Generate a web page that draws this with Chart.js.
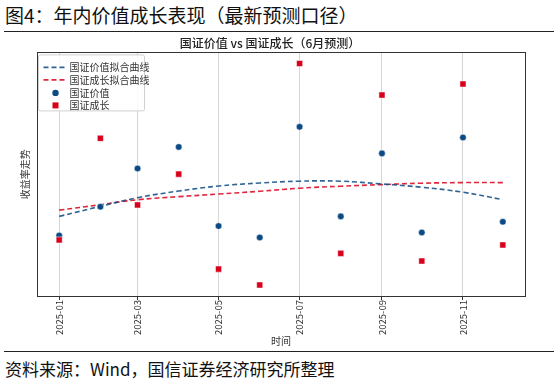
<!DOCTYPE html>
<html>
<head>
<meta charset="utf-8">
<script src="https://cdn.jsdelivr.net/npm/chart.js@4.4.1/dist/chart.umd.min.js"></script>
<style>
body { margin: 0; width: 556px; height: 385px; background: #fff; position: relative; overflow: hidden; font-family: "Noto Sans CJK SC", sans-serif; }
#head { position: absolute; left: 5px; top: 1px; font-size: 19px; color: #111; white-space: nowrap; }
.rule { position: absolute; left: 4px; width: 550px; border-top: 1.5px solid #222; }
#foot { position: absolute; left: 5px; top: 356px; font-size: 17px; color: #111; white-space: nowrap; }
#wrap { position: absolute; left: 0; top: 34px; width: 556px; height: 316px; }
</style>
</head>
<body>
<div id="head">图4：年内价值成长表现（最新预测口径）</div>
<div class="rule" style="top:31px"></div>
<div id="wrap"><canvas id="chart"></canvas></div>
<div class="rule" style="top:351px"></div>
<div id="foot">资料来源：Wind，国信证券经济研究所整理</div>

<script>
Chart.defaults.font.family = '"Noto Sans CJK SC", sans-serif';
Chart.defaults.color = '#333';

// monthly observations (first day of each month)
const dates = ['2025-01-01', '2025-02-01', '2025-03-01', '2025-04-01', '2025-05-01', '2025-06-01',
	'2025-07-01', '2025-08-01', '2025-09-01', '2025-10-01', '2025-11-01', '2025-12-01'];
const tickLabels = ['2025-01', '2025-03', '2025-05', '2025-07', '2025-09', '2025-11'];

// 国证价值 / 国证成长 scatter values
const valuePts = [0.72, 2.15, 4.05, 5.12, 1.19, 0.62, 6.12, 1.67, 4.80, 0.87, 5.59, 1.40];
const growthPts = [0.50, 5.55, 2.24, 3.77, -0.95, -1.74, 9.27, -0.17, 7.70, -0.55, 8.25, 0.25];

// fitted curves, read at each month
const valueFit = [1.67, 2.17, 2.60, 2.93, 3.18, 3.33, 3.42, 3.42, 3.28, 3.12, 2.87, 2.50];
const growthFit = [1.98, 2.25, 2.50, 2.65, 2.78, 2.92, 3.07, 3.17, 3.25, 3.32, 3.35, 3.35];

const blue = '#0b4a84';
const red = '#d9001b';

const day0 = Date.parse('2025-01-01');
const dayOf = s => Math.round((Date.parse(s) - day0) / 86400000);
const xs = dates.map(dayOf);

function pts(arr) {
	return arr.map((v, i) => ({ x: xs[i], y: v }));
}

// matplotlib-style 5% margins
const xPad = (xs[xs.length - 1] - xs[0]) * 0.05;
const allY = valuePts.concat(growthPts, valueFit, growthFit);
const yLo = Math.min(...allY), yHi = Math.max(...allY);
const yPad = (yHi - yLo) * 0.05;

const tickDays = tickLabels.map(t => dayOf(t + '-01'));

// legend box + frame drawn inside the plot
const frameLegend = {
	id: 'frameLegend',
	afterDraw(chart) {
		const { ctx, chartArea: a } = chart;
		ctx.save();
		ctx.strokeStyle = '#333';
		ctx.lineWidth = 1;
		ctx.strokeRect(Math.round(a.left) + 0.5, Math.round(a.top) + 0.5,
			Math.round(a.right - a.left), Math.round(a.bottom - a.top));

		const bx = a.left + 1.5, by = a.top + 2.5, bw = 106, bh = 56;
		ctx.fillStyle = 'rgba(255,255,255,0.85)';
		ctx.strokeStyle = '#d0d0d0';
		ctx.beginPath();
		ctx.roundRect(bx, by, bw, bh, 2);
		ctx.fill();
		ctx.stroke();

		const rows = [12.5, 25, 38, 50.5];
		ctx.font = '10px "Noto Sans CJK SC", sans-serif';
		ctx.textBaseline = 'middle';
		chart.data.datasets.forEach((ds, i) => {
			const y = by + rows[i];
			if (ds.showLine) {
				ctx.strokeStyle = ds.borderColor;
				ctx.lineWidth = ds.borderWidth;
				ctx.setLineDash(ds.borderDash);
				ctx.beginPath();
				ctx.moveTo(bx + 5, y);
				ctx.lineTo(bx + 29, y);
				ctx.stroke();
				ctx.setLineDash([]);
			} else {
				ctx.fillStyle = ds.backgroundColor;
				if (ds.pointStyle === 'rect') {
					ctx.fillRect(bx + 14, y - 3, 6, 6);
				} else {
					ctx.beginPath();
					ctx.arc(bx + 17, y, 3.2, 0, Math.PI * 2);
					ctx.fill();
				}
			}
			ctx.fillStyle = '#333';
			ctx.fillText(ds.label, bx + 31, y);
		});
		ctx.restore();
	}
};

new Chart(
	document.getElementById('chart'),
	{
		type: 'line',
		data: {
			datasets: [
				{
					label: '国证价值拟合曲线',
					data: pts(valueFit),
					showLine: true,
					borderColor: 'rgba(11,74,132,0.85)',
					borderWidth: 1.6,
					borderDash: [5, 3],
					tension: 0.4,
					pointRadius: 0,
					order: 2,
				},
				{
					label: '国证成长拟合曲线',
					data: pts(growthFit),
					showLine: true,
					borderColor: 'rgba(217,0,27,0.85)',
					borderWidth: 1.6,
					borderDash: [5, 3],
					tension: 0.4,
					pointRadius: 0,
					order: 2,
				},
				{
					label: '国证价值',
					data: pts(valuePts),
					showLine: false,
					backgroundColor: blue,
					borderColor: '#fff',
					borderWidth: 0.5,
					pointStyle: 'circle',
					pointRadius: 3.3,
					order: 1,
				},
				{
					label: '国证成长',
					data: pts(growthPts),
					showLine: false,
					backgroundColor: red,
					borderColor: '#fff',
					borderWidth: 0.5,
					pointStyle: 'rect',
					pointRadius: 4.3,
					order: 0,
				}
			]
		},
		options: {
			responsive: true,
			maintainAspectRatio: false,
			animation: false,
			layout: { padding: { left: 15, right: 31, top: 0, bottom: 0 } },
			plugins: {
				legend: { display: false },
				tooltip: { enabled: false },
				title: {
					display: true,
					text: '国证价值 vs 国证成长（6月预测）',
					font: { size: 12, weight: '500' },
					color: '#222',
					padding: { top: 2, bottom: 2 },
				}
			},
			scales: {
				x: {
					type: 'linear',
					min: xs[0] - xPad,
					max: xs[xs.length - 1] + xPad,
					afterBuildTicks: scale => {
						scale.ticks = tickDays.map(v => ({ value: v }));
					},
					ticks: {
						autoSkip: false,
						maxRotation: 90,
						minRotation: 90,
						padding: 0,
						font: { size: 9.5 },
						callback: v => tickLabels[tickDays.indexOf(v)],
					},
					grid: { color: '#d6d6d6', lineWidth: 1, tickColor: '#333', tickLength: 4 },
					border: { display: false },
					title: {
						display: true,
						text: '时间',
						font: { size: 10 },
						padding: { top: 0, bottom: 3 },
					}
				},
				y: {
					min: yLo - yPad,
					max: yHi + yPad,
					ticks: { display: false },
					grid: { display: false, drawTicks: false },
					border: { display: false },
					title: {
						display: true,
						text: '收益率走势',
						font: { size: 10 },
						padding: { top: 4, bottom: 6 },
					}
				}
			}
		},
		plugins: [frameLegend]
	}
);
</script>
</body>
</html>
